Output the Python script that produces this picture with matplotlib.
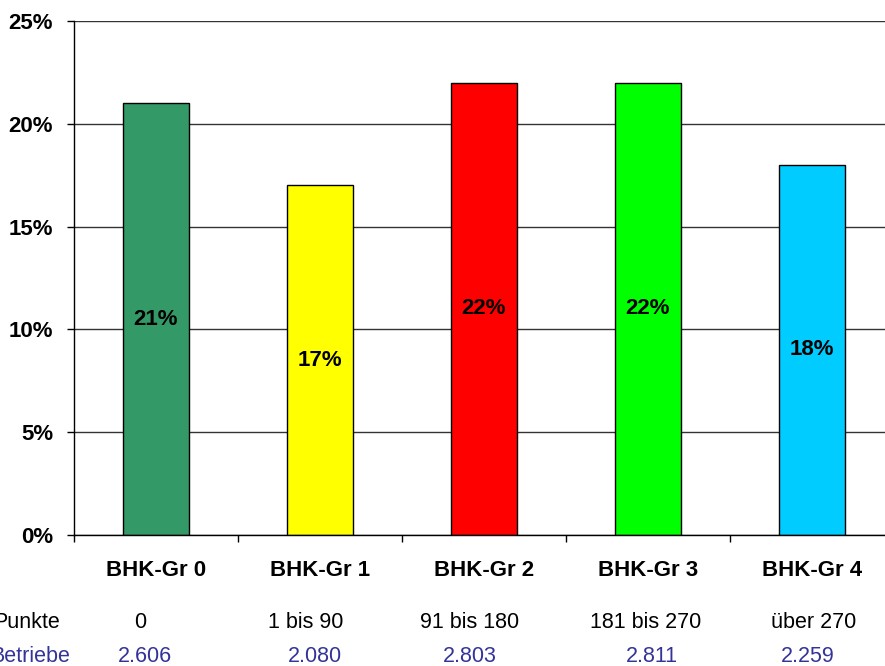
import matplotlib
matplotlib.use("Agg")
import matplotlib.pyplot as plt
from matplotlib.ticker import FuncFormatter

plt.rcParams['font.family'] = ['Liberation Sans', 'DejaVu Sans']

groups = ["BHK-Gr 0", "BHK-Gr 1", "BHK-Gr 2", "BHK-Gr 3", "BHK-Gr 4"]
shares = [21, 17, 22, 22, 18]
punkte = ["0", "1 bis 90", "91 bis 180", "181 bis 270", "über 270"]
betriebe = ["2.606", "2.080", "2.803", "2.811", "2.259"]
colors = ["#339966", "#FFFF00", "#FF0000", "#00FF00", "#00CCFF"]

W, H = 885, 666
fig = plt.figure(figsize=(W / 100, H / 100), dpi=100)
ax = fig.add_axes([74 / W, (H - 535) / H, 820 / W, 514 / H])

x = list(range(len(groups)))
ax.bar(x, shares, width=0.40, color=colors, edgecolor="black", linewidth=1, zorder=3)

for xi, v in zip(x, shares):
    ax.text(xi, v / 2, f"{v}%", ha="center", va="center",
            fontsize=16, fontweight="bold", zorder=4)

ax.set_xlim(-0.5, len(groups) - 0.5)
ax.set_ylim(0, 25)
ax.set_yticks(range(0, 26, 5))
ax.yaxis.set_major_formatter(FuncFormatter(lambda v, p: f"{int(v)}%"))
ax.set_xticks([i - 0.5 for i in range(len(groups) + 1)])
ax.set_xticklabels([])
ax.grid(axis="y", color="#333333", linewidth=1, zorder=1)

for s in ("top", "right"):
    ax.spines[s].set_visible(False)
for s in ("left", "bottom"):
    ax.spines[s].set_color("black")
    ax.spines[s].set_linewidth(1)
ax.spines["bottom"].set_zorder(5)

ax.tick_params(axis="y", length=5, width=1, pad=10, labelsize=16)
ax.tick_params(axis="x", length=5, width=1)
for lbl in ax.get_yticklabels():
    lbl.set_fontweight("bold")

# Category labels and the table rows below the plot
for xi, g in zip(x, groups):
    ax.text(xi, -36 / 514, g, transform=ax.get_xaxis_transform(),
            ha="center", va="center", fontsize=16, fontweight="bold")

punkte_x = [140, 306, 470, 646, 814]
betriebe_x = [145, 315, 470, 652, 808]
row_punkte_y = 1 - 622 / H
row_betriebe_y = 1 - 656 / H
fig.text(60 / W, row_punkte_y, "Punkte", ha="right", va="center", fontsize=15.5)
fig.text(70 / W, row_betriebe_y, "Betriebe", ha="right", va="center", fontsize=15.5,
         color="#333399")
for px, t in zip(punkte_x, punkte):
    fig.text(px / W, row_punkte_y, t, ha="center", va="center", fontsize=15.5)
for bx, t in zip(betriebe_x, betriebe):
    fig.text(bx / W, row_betriebe_y, t, ha="center", va="center", fontsize=15.5,
             color="#333399")

fig.savefig("out.png", dpi=100)
